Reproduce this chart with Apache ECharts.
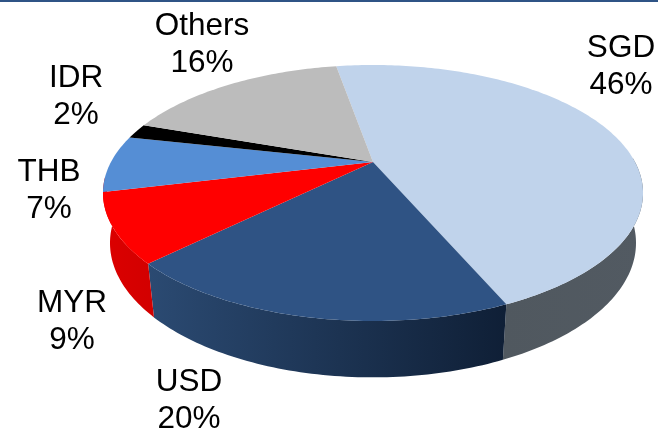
<!DOCTYPE html>
<html>
<head>
<meta charset="utf-8">
<title>Currency split</title>
<style>
  html, body { margin: 0; padding: 0; background: #fff; }
  #main { width: 658px; height: 431px; }
</style>
<script src="https://cdn.jsdelivr.net/npm/echarts@6/dist/echarts.min.js"></script>
</head>
<body>
<div id="main"></div>
<script>
// slice sizes as measured on the picture, printed labels as given on it
var currencies = ['SGD', 'USD', 'MYR', 'THB', 'IDR', 'Others'];
var shares = [46.3, 19.1, 8.6, 7.2, 1.9, 16.9];
var shareLabels = ['46%', '20%', '9%', '7%', '2%', '16%'];

var topColors = ['#c0d3eb', '#2f5384', '#ff0000', '#558ed5', '#000000', '#bcbcbc'];
var wallLeft = ['#50585f', '#2b4a72', '#dc0000'];
var wallRight = ['#525a62', '#0f1f36', '#d20000'];

// label centres on the page
var labelX = [621, 189, 72, 49, 76, 202];
var labelY = [66.5, 401, 322, 191, 97, 45];

// projection of the tilted disc
var CX = 373, CY = 162, RX = 262, RY = 120.5, PERSP = 0.242;
var RIM_CY = 193, BASE_CY = 243, BASE_SX = 0.974, BASE_SY = 1.05;
var START_ANGLE = -10, WALL_FROM = 88, WALL_TO = 263;

var total = shares.reduce(function (a, b) { return a + b; }, 0);
var starts = [];
var ends = [];
shares.reduce(function (acc, v, i) {
  starts[i] = acc;
  ends[i] = acc + v / total * 360;
  return ends[i];
}, START_ANGLE);

function topPoint(deg) {
  var t = deg * Math.PI / 180;
  var u = Math.sin(t), v = Math.cos(t);
  var w = 1 + PERSP * v;
  return [CX + RX * u / w, CY - RY * v / w];
}

function basePoint(deg) {
  var p = topPoint(deg);
  return [CX + BASE_SX * (p[0] - CX), BASE_CY + BASE_SY * (p[1] - RIM_CY)];
}

function arc(from, to, fn) {
  var pts = [];
  var n = Math.max(2, Math.ceil(Math.abs(to - from)));
  for (var i = 0; i <= n; i++) {
    pts.push(fn(from + (to - from) * i / n));
  }
  return pts;
}

// only the front slices show a wall, the last one runs on to the silhouette
function renderWall(params) {
  var i = params.dataIndex;
  if (i >= wallLeft.length) {
    return { type: 'group', children: [] };
  }
  var from = Math.max(starts[i], WALL_FROM);
  var to = i === wallLeft.length - 1 ? WALL_TO : ends[i];
  var pts = arc(from, to, topPoint).concat(arc(to, from, basePoint));
  return {
    type: 'polygon',
    shape: { points: pts },
    style: {
      fill: new echarts.graphic.LinearGradient(0, 0, 1, 0, [
        { offset: 0, color: wallLeft[i] },
        { offset: 1, color: wallRight[i] }
      ])
    }
  };
}

function renderTop(params) {
  var i = params.dataIndex;
  var pts = [[CX, CY]].concat(arc(starts[i], ends[i], topPoint));
  return {
    type: 'polygon',
    shape: { points: pts },
    style: { fill: topColors[i] }
  };
}

function renderLabel(params) {
  var i = params.dataIndex;
  return {
    type: 'text',
    style: {
      text: currencies[i] + '\n' + shareLabels[i],
      x: labelX[i],
      y: labelY[i],
      align: 'center',
      verticalAlign: 'middle',
      fill: '#000',
      fontSize: 31.5,
      lineHeight: 37,
      fontFamily: '"Liberation Sans", Arial, sans-serif'
    }
  };
}

function customSeries(render) {
  return {
    type: 'custom',
    coordinateSystem: 'none',
    renderItem: render,
    data: shares.map(function (v, i) {
      return { name: currencies[i], value: [v] };
    }),
    silent: true,
    animation: false
  };
}

var option = {
  animation: false,
  backgroundColor: '#fff',
  graphic: [{
    type: 'rect',
    shape: { x: 0, y: 0, width: 658, height: 2 },
    style: { fill: '#2f5486' }
  }],
  series: [
    customSeries(renderWall),
    customSeries(renderTop),
    customSeries(renderLabel)
  ]
};

echarts.init(document.getElementById('main')).setOption(option);
</script>
</body>
</html>
